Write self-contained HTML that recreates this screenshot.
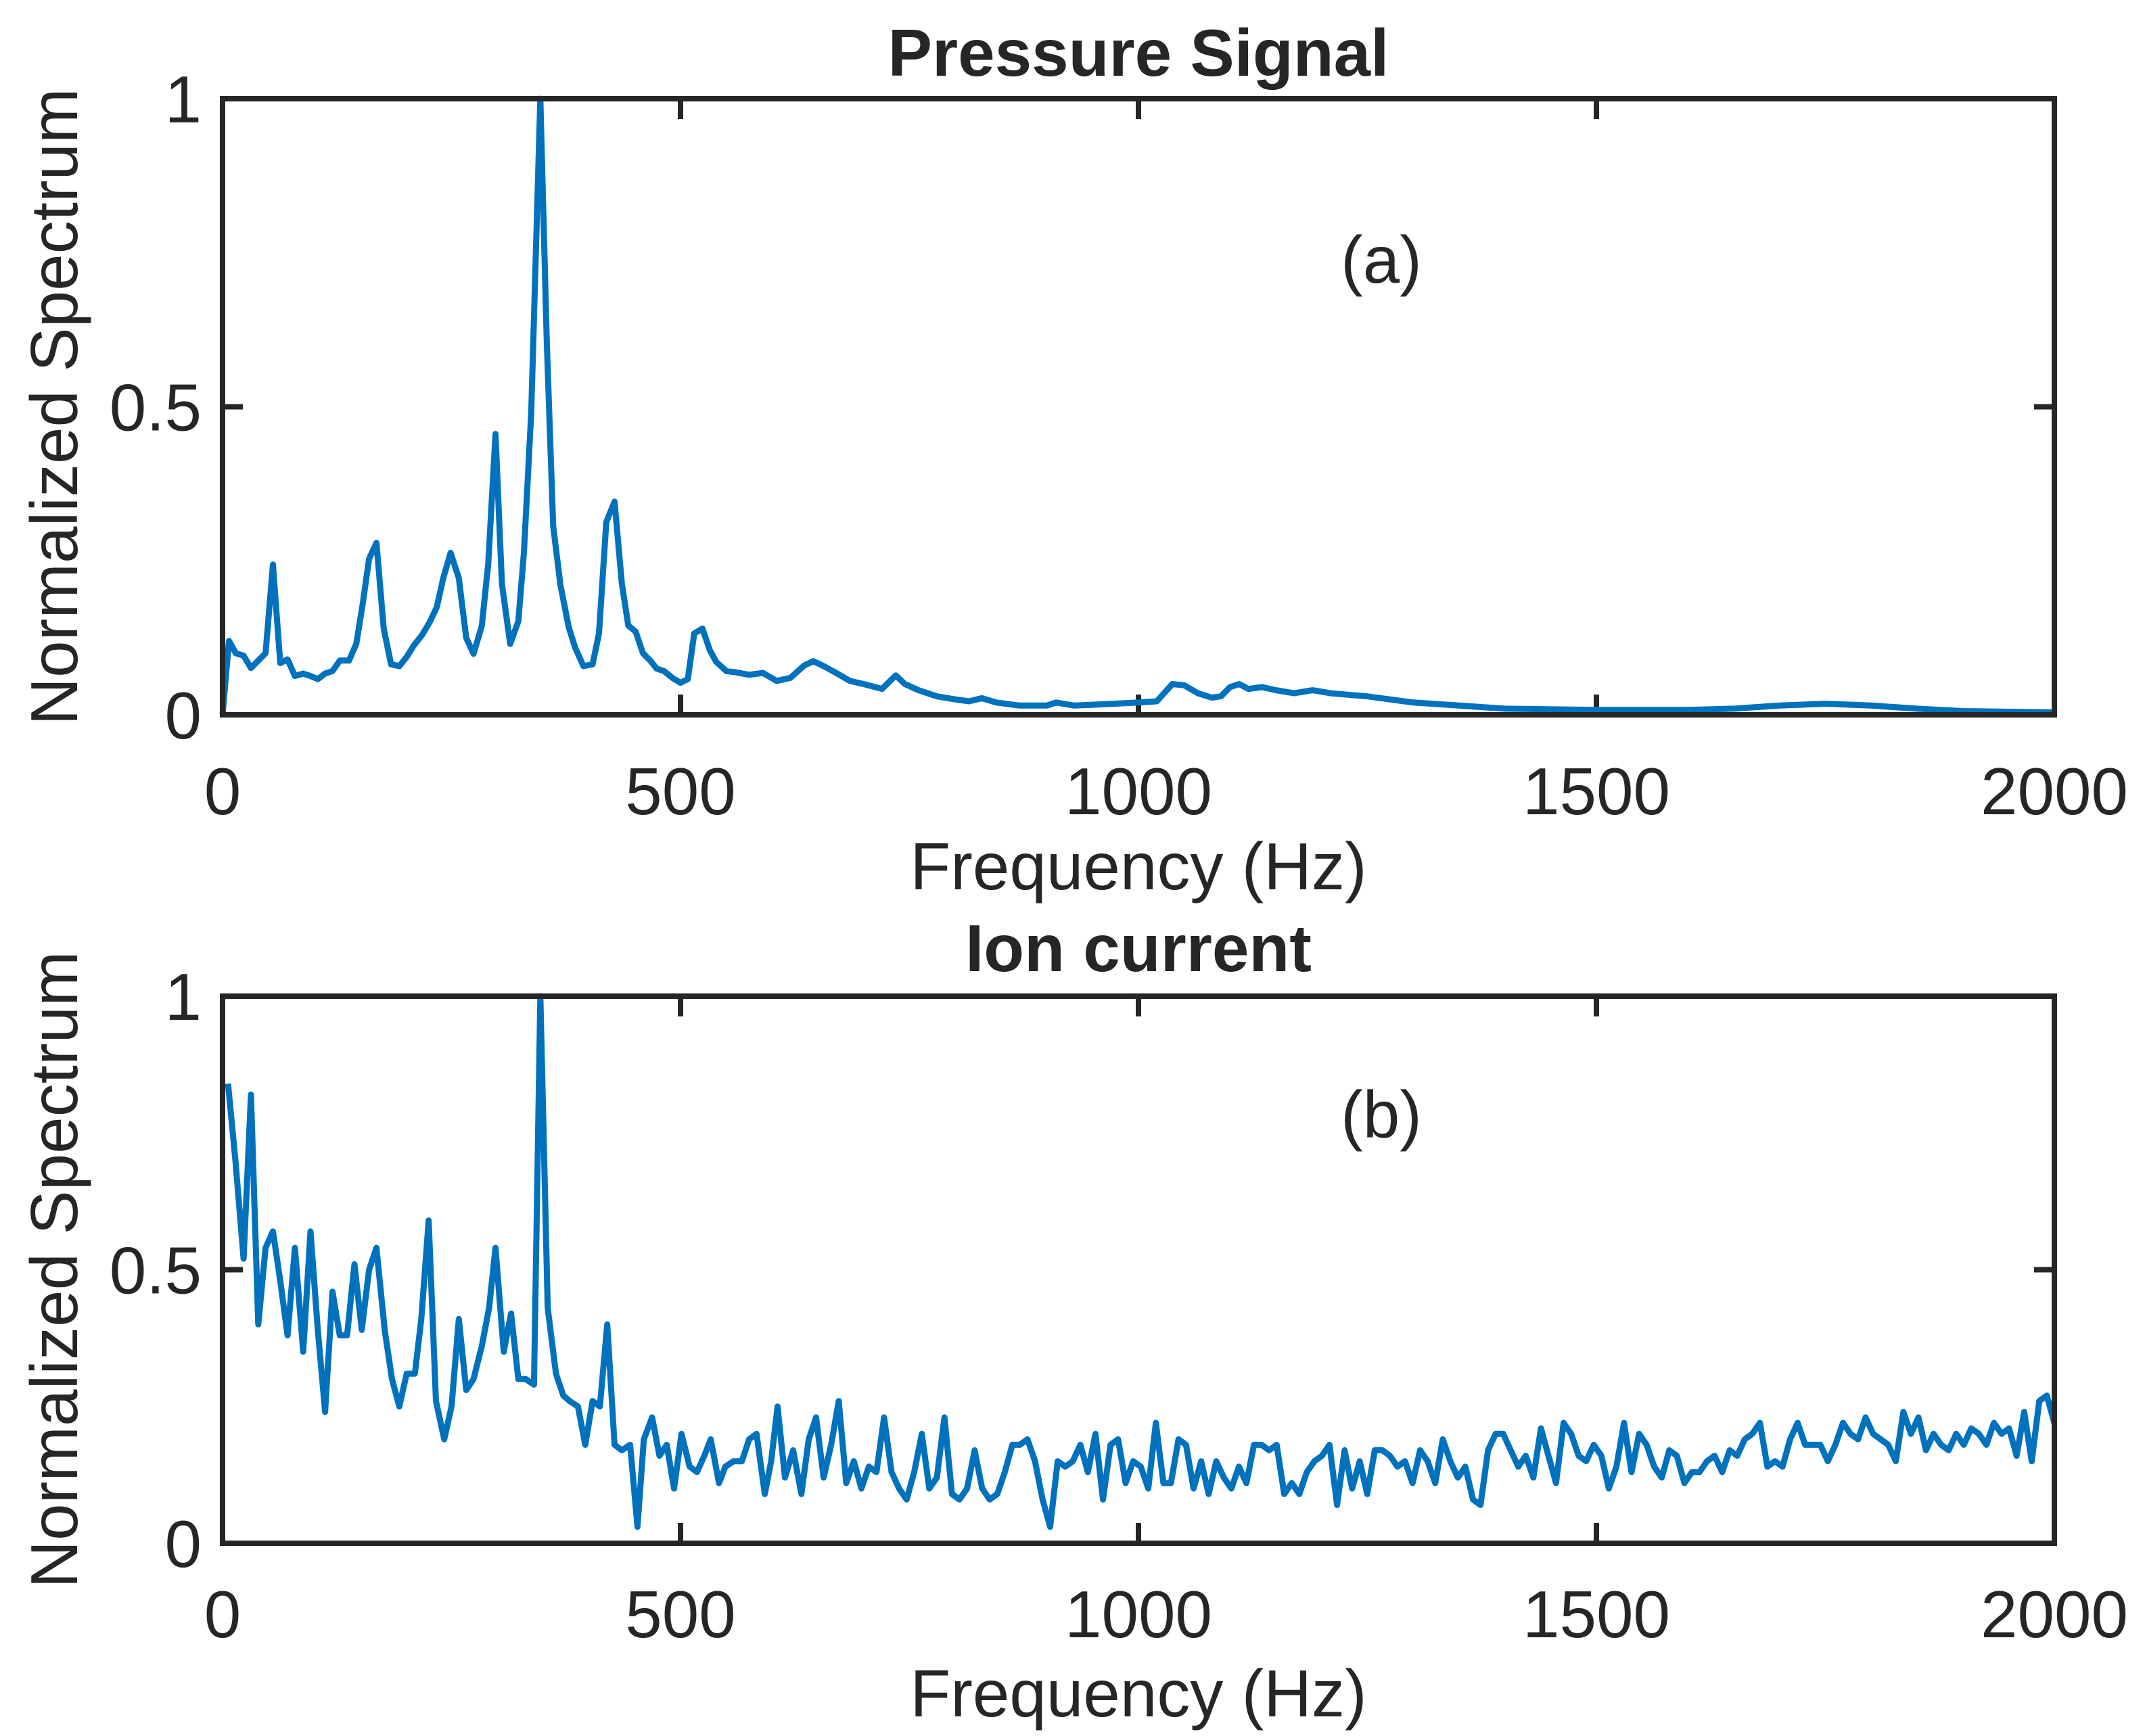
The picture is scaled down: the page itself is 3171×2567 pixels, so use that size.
<!DOCTYPE html>
<html><head><meta charset="utf-8"><style>body{margin:0;background:#fff}svg{display:block}text{font-family:"Liberation Sans",Arial,sans-serif;fill:#262626}</style></head>
<body>
<svg id="fig" width="3171" height="2567" viewBox="0 0 3171 2567" xmlns="http://www.w3.org/2000/svg"></svg>
<script>
const xTicks=[0,500,1000,1500,2000];
const yTicks=[0,0.5,1];
const yTickLabels=["0","0.5","1"];
const freqA=[0,7,14.5,23,31,39,47,55,63,71,79,88,96,104,112,120,128,138,146,153,160,168,176,184,193,201,209,218,226,234,241,249,258,266,274,283,290,298,305,314,323,329,337,347,354,361,369,378,385,394,404,411,419,428,436,443,451,459,467,474,482,492,500,508,515,524,532,539,550,560,575,590,605,620,635,645,655,670,685,700,720,735,745,760,780,800,815,829,845,870,900,910,930,960,1000,1020,1037,1050,1065,1080,1090,1100,1110,1120,1135,1150,1170,1190,1210,1250,1300,1350,1400,1500,1600,1650,1700,1750,1800,1850,1900,2000];
const valA=[0,0.12,0.10,0.096,0.076,0.088,0.10,0.244,0.084,0.09,0.063,0.067,0.063,0.058,0.067,0.071,0.088,0.088,0.115,0.18,0.253,0.279,0.14,0.082,0.079,0.094,0.113,0.13,0.15,0.175,0.222,0.263,0.222,0.125,0.099,0.144,0.244,0.456,0.213,0.115,0.152,0.263,0.49,1.0,0.606,0.306,0.21,0.142,0.109,0.079,0.082,0.132,0.313,0.346,0.213,0.145,0.135,0.10,0.088,0.075,0.071,0.059,0.052,0.058,0.132,0.14,0.105,0.086,0.071,0.069,0.065,0.068,0.055,0.06,0.08,0.087,0.08,0.068,0.055,0.05,0.042,0.064,0.05,0.04,0.03,0.025,0.022,0.027,0.02,0.015,0.015,0.02,0.015,0.017,0.02,0.022,0.05,0.048,0.035,0.028,0.03,0.045,0.05,0.042,0.045,0.04,0.035,0.04,0.035,0.03,0.02,0.015,0.01,0.008,0.008,0.01,0.015,0.018,0.015,0.01,0.006,0.004];
const freqB=[6,14,23,31,39,47,55,63,71,79,88,96,104,112,120,128,136,144,152,160,168,177,185,193,201,210,217,225,233,242,250,258,266,274,283,291,298,307,315,323,331,340,347,355,364,372,379,388,396,404,412,420,428,436,445,453,460,469,477,485,493,501,510,518,526,533,542,549,558,567,575,583,592,599,606,614,623,632,640];
const valB=[0.84,0.70,0.52,0.82,0.40,0.54,0.57,0.48,0.38,0.54,0.35,0.57,0.39,0.24,0.46,0.38,0.38,0.51,0.39,0.50,0.54,0.39,0.30,0.25,0.31,0.31,0.41,0.59,0.26,0.19,0.25,0.41,0.28,0.30,0.36,0.43,0.54,0.35,0.42,0.30,0.30,0.29,1.0,0.43,0.31,0.27,0.26,0.25,0.18,0.26,0.25,0.40,0.18,0.17,0.18,0.03,0.19,0.23,0.16,0.18,0.10,0.20,0.14,0.13,0.16,0.19,0.11,0.14,0.15,0.15,0.19,0.20,0.09,0.15,0.25,0.12,0.17,0.09,0.19];
const valBTail=[0.23,0.12,0.18,0.26,0.11,0.15,0.10,0.14,0.13,0.23,0.13,0.10,0.08,0.13,0.20,0.10,0.12,0.23,0.09,0.08,0.10,0.17,0.10,0.08,0.09,0.13,0.18,0.18,0.19,0.15,0.08,0.03,0.15,0.14,0.15,0.18,0.13,0.20,0.08,0.18,0.19,0.11,0.15,0.14,0.10,0.22,0.11,0.11,0.19,0.18,0.10,0.15,0.09,0.15,0.12,0.10,0.14,0.11,0.18,0.18,0.17,0.18,0.09,0.11,0.09,0.13,0.15,0.16,0.18,0.07,0.17,0.10,0.15,0.09,0.17,0.17,0.16,0.14,0.15,0.11,0.17,0.15,0.11,0.19,0.15,0.12,0.14,0.08,0.07,0.17,0.20,0.20,0.17,0.14,0.16,0.12,0.21,0.16,0.11,0.22,0.20,0.16,0.15,0.18,0.16,0.10,0.14,0.22,0.13,0.20,0.18,0.14,0.12,0.17,0.16,0.11,0.13,0.13,0.15,0.16,0.13,0.17,0.16,0.19,0.20,0.22,0.14,0.15,0.14,0.19,0.22,0.18,0.18,0.18,0.15,0.18,0.22,0.20,0.19,0.23,0.20,0.19,0.18,0.15,0.24,0.20,0.23,0.17,0.20,0.18,0.17,0.20,0.18,0.21,0.20,0.18,0.22,0.20,0.21,0.16,0.24,0.15,0.26,0.27,0.22];
const tailStart=648, tailEnd=2000;

const NS="http://www.w3.org/2000/svg";
const svg=document.getElementById('fig');
function mk(tag,attrs,parent){const e=document.createElementNS(NS,tag);for(const k in attrs)e.setAttribute(k,attrs[k]);(parent||svg).appendChild(e);return e;}
const L=329,R=3037;
function xs(f){return L+(f/2000)*(R-L);}
function panel(top,bot,title,titleY,tag,tagY,xTickY,xLabY,fr,vals,key){
  const g=mk('g',{});
  
  
  const ys=v=>bot-v*(bot-top);
  xTicks.forEach(t=>{
    const x=xs(t);
    const a=mk('line',{x1:x,x2:x,y1:bot,y2:bot-30,stroke:'#262626','stroke-width':8},g);
    
    const b=mk('line',{x1:x,x2:x,y1:top,y2:top+30,stroke:'#262626','stroke-width':8},g);
    
    const tx=mk('text',{x:x,y:xTickY,'font-size':98,'text-anchor':'middle'},g);tx.textContent=String(t);
    
  });
  yTicks.forEach((t,i)=>{
    const y=ys(t);
    const a=mk('line',{x1:L,x2:L+30,y1:y,y2:y,stroke:'#262626','stroke-width':8},g);
    
    const b=mk('line',{x1:R,x2:R-30,y1:y,y2:y,stroke:'#262626','stroke-width':8},g);
    
    const tx=mk('text',{x:298,y:y+35,'font-size':98,'text-anchor':'end'},g);tx.textContent=yTickLabels[i];
    
  });
  const pts=fr.map((f,i)=>xs(f).toFixed(1)+','+ys(vals[i]).toFixed(1)).join(' ');
  const pl=mk('polyline',{points:pts,fill:'none',stroke:'#0072BD','stroke-width':9,'stroke-linejoin':'round'},g);
  
  const box=mk('rect',{x:L,y:top,width:R-L,height:bot-top,fill:'none',stroke:'#262626','stroke-width':8},g);
  
  const ti=mk('text',{x:(L+R)/2,y:titleY,'font-size':98,'font-weight':'bold','text-anchor':'middle'},g);ti.textContent=title;
  
  const tg=mk('text',{x:2042,y:tagY,'font-size':98,'text-anchor':'middle'},g);tg.textContent=tag;
  
  const xl=mk('text',{x:(L+R)/2,y:xLabY,'font-size':98,'text-anchor':'middle'},g);xl.textContent='Frequency (Hz)';
  
  const cy=(top+bot)/2;
  const yl=mk('text',{x:80,y:cy,'font-size':98,'text-anchor':'middle','dominant-baseline':'central',transform:'rotate(-90 80 '+cy+')'},g);yl.textContent='Normalized Spectrum';
  
}
panel(146,1057,'Pressure Signal',112,'(a)',418,1204,1315,freqA,valA,'pressure');
const n=valBTail.length;
const fB=freqB.slice(), vB=valB.slice();
valBTail.forEach((v,i)=>{fB.push(tailStart+i*(tailEnd-tailStart)/(n-1));vB.push(v);});
panel(1473,2282,'Ion current',1436,'(b)',1682,2421,2538,fB,vB,'ion');
</script>
</body></html>
